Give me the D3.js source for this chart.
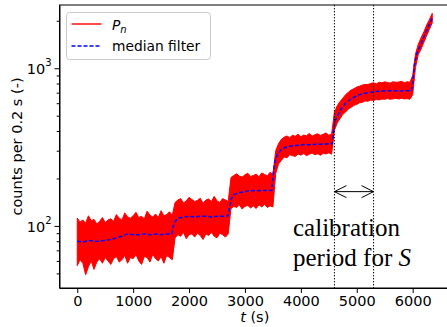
<!DOCTYPE html>
<html>
<head>
<meta charset="utf-8">
<script src="https://cdn.jsdelivr.net/npm/d3@7"></script>
<style>
  body { margin: 0; background: #fff; }
  svg { display: block; }
</style>
</head>
<body>
<svg id="chart"></svg>
<script>
// raw signal envelope (counts per 0.2 s), sampled every 50 s from t = 0
const noiseStep = 50;
const noiseHi = [
  112,106,109,104,116,108,110,103,107,113,105,109,111,107,118,112,109,121,114,112,116,122,113,115,111,124,117,114,119,113,125,116,118,123,117,
  141,146,149,140,144,152,147,143,145,150,139,146,148,143,154,144,141,149,146,143,
  203,209,214,207,204,211,216,206,209,213,205,217,212,208,219,213,
  300,332,354,365,372,363,376,370,382,368,377,373,386,371,379,384,375,381,389,376,383,
  525,578,615,645,680,705,728,742,760,770,782,790,788,802,808,796,815,808,820,812,805,822,815,818,826,810,820,815,
  900,1230,1420,1560,1700,1880,2040,2230
];
const noiseLo = [
  56,61,58,49,55,60,53,59,62,58,63,60,57,62,64,59,61,65,58,63,62,66,60,57,64,63,59,66,62,60,64,58,65,63,61,
  84,88,86,91,83,88,89,85,90,87,82,89,87,91,86,84,90,88,85,89,
  129,133,131,136,128,133,135,130,134,129,136,132,137,131,134,132,
  215,247,260,274,270,283,279,276,286,281,288,279,285,290,283,287,281,289,286,291,285,
  405,450,478,510,528,552,565,582,590,604,608,620,618,628,625,634,630,638,636,642,635,640,644,638,645,639,641,637,
  680,1010,1220,1320,1460,1610,1770,1940
];

// median filter
const medianT = [0,100,200,300,400,500,600,700,800,900,1000,1100,1200,1300,1400,1500,1600,1690,
  1720,1760,1800,1900,2000,2100,2200,2300,2400,2500,2600,2700,
  2720,2760,2800,2900,3000,3100,3200,3300,3400,3480,
  3510,3540,3580,3650,3750,3850,3950,4050,4150,4250,4350,4450,4560,
  4590,4620,4700,4800,4900,5000,5100,5200,5300,5400,5500,5600,5700,5800,5900,5980,
  6000,6030,6080,6150,6200,6250,6300,6350];
const medianV = [80,79,81,80,80,81,82,84,86,89,88,88,89,88,89,88,89,89,
  100,108,112,114,115,114,115,115,114,115,115,116,
  130,150,158,163,165,168,167,168,168,168,
  220,260,285,305,318,322,325,328,327,330,330,331,332,
  420,470,540,600,640,670,690,700,710,715,718,720,720,718,720,722,
  800,1050,1250,1430,1580,1740,1900,2080];

const calibStart = 4600, calibEnd = 5300;
const arrowLevel = 165;
const xTicks = [0,1000,2000,3000,4000,5000,6000];
const yMajor = [100, 1000];
const yMinor = [50,60,70,80,90,200,300,400,500,600,700,800,900,2000];

const width = 447, height = 327;
const margin = { top: 5, right: -3, bottom: 39, left: 59.5 };

const svg = d3.select('#chart').attr('width', width).attr('height', height);

const x = d3.scaleLinear()
  .domain([-317.5, 6667.5])
  .range([margin.left, width - margin.right]);

const y = d3.scaleLog()
  .domain([40.4, 2518])
  .range([height - margin.bottom, margin.top]);

svg.append('defs').append('clipPath').attr('id', 'clip')
  .append('rect')
  .attr('x', margin.left).attr('y', margin.top)
  .attr('width', width - margin.right - margin.left)
  .attr('height', height - margin.bottom - margin.top);

const plot = svg.append('g').attr('clip-path', 'url(#clip)');

const noise = noiseHi.map((h, i) => ({ t: i * noiseStep, hi: h, lo: noiseLo[i] }));

plot.append('path')
  .datum(noise)
  .attr('fill', '#ff0000')
  .attr('stroke', '#ff0000')
  .attr('stroke-width', 1)
  .attr('d', d3.area()
    .x(d => x(d.t))
    .y0(d => y(d.lo))
    .y1(d => y(d.hi)));

const median = medianT.map((t, i) => ({ t, v: medianV[i] }));

plot.append('path')
  .datum(median)
  .attr('fill', 'none')
  .attr('stroke', '#0000ff')
  .attr('stroke-width', 1.5)
  .attr('stroke-dasharray', '4,2')
  .attr('d', d3.line().x(d => x(d.t)).y(d => y(d.v)));

// calibration window
[calibStart, calibEnd].forEach(t => {
  plot.append('line')
    .attr('x1', x(t)).attr('x2', x(t))
    .attr('y1', margin.top).attr('y2', height - margin.bottom)
    .attr('stroke', '#000')
    .attr('stroke-width', 1)
    .attr('stroke-dasharray', '1.4,1.6');
});

const ay = y(arrowLevel);
const ax0 = x(calibStart), ax1 = x(calibEnd);
svg.append('path')
  .attr('fill', 'none')
  .attr('stroke', '#000')
  .attr('stroke-width', 1)
  .attr('d', `M${ax0},${ay}H${ax1}` +
    `M${ax0 + 12},${ay - 6}L${ax0},${ay}L${ax0 + 12},${ay + 6}` +
    `M${ax1 - 12},${ay - 6}L${ax1},${ay}L${ax1 - 12},${ay + 6}`);

const note = svg.append('text')
  .attr('font-family', '"Liberation Serif", "Times New Roman", serif')
  .attr('font-size', 25)
  .attr('fill', '#000');
note.append('tspan').attr('x', 293).attr('y', 236).text('calibration');
note.append('tspan').attr('x', 293).attr('y', 266).text('period for ');
note.append('tspan').attr('font-style', 'italic').text('S');

// axes
const font = 'DejaVu Sans, sans-serif';

const gx = svg.append('g')
  .attr('transform', `translate(0,${height - margin.bottom})`)
  .call(d3.axisBottom(x).tickValues(xTicks).tickFormat(d3.format('d'))
    .tickSize(5).tickPadding(3).tickSizeOuter(0));
gx.selectAll('text').attr('font-family', font).attr('font-size', 14.5).attr('fill', '#000');

svg.append('g')
  .attr('transform', `translate(${margin.left},0)`)
  .call(d3.axisLeft(y).tickValues(yMinor).tickSize(2.8).tickFormat(''))
  .call(g => g.select('.domain').remove());

const gy = svg.append('g')
  .attr('transform', `translate(${margin.left},0)`)
  .call(d3.axisLeft(y).tickValues(yMajor).tickSize(5).tickPadding(3).tickSizeOuter(0).tickFormat(''));
gy.selectAll('.tick').append('text')
  .attr('x', -8)
  .attr('dy', '0.36em')
  .attr('text-anchor', 'end')
  .attr('font-family', font)
  .attr('font-size', 14.5)
  .attr('fill', '#000')
  .each(function(d) {
    const t = d3.select(this);
    t.append('tspan').text('10');
    t.append('tspan').attr('font-size', 10).attr('dy', '-0.75em').text(Math.round(Math.log10(d)));
  });

// frame
svg.append('rect')
  .attr('x', margin.left).attr('y', margin.top)
  .attr('width', width - margin.right - margin.left)
  .attr('height', height - margin.bottom - margin.top)
  .attr('fill', 'none')
  .attr('stroke', '#000')
  .attr('stroke-width', 1);

svg.append('text')
  .attr('x', (margin.left + width - margin.right) / 2)
  .attr('y', 322)
  .attr('text-anchor', 'middle')
  .attr('font-family', font)
  .attr('font-size', 14.5)
  .call(t => {
    t.append('tspan').attr('font-style', 'italic').text('t');
    t.append('tspan').text(' (s)');
  });

svg.append('text')
  .attr('transform', `translate(21.5,${(margin.top + height - margin.bottom) / 2}) rotate(-90)`)
  .attr('text-anchor', 'middle')
  .attr('font-family', font)
  .attr('font-size', 14.5)
  .text('counts per 0.2 s (-)');

// legend
const legend = svg.append('g');
legend.append('rect')
  .attr('x', 66.5).attr('y', 12.5)
  .attr('width', 144).attr('height', 47)
  .attr('rx', 3)
  .attr('fill', '#fff').attr('fill-opacity', 0.8)
  .attr('stroke', '#cccccc');
legend.append('line')
  .attr('x1', 71.5).attr('x2', 101.5).attr('y1', 24).attr('y2', 24)
  .attr('stroke', '#ff0000').attr('stroke-width', 1.4);
legend.append('line')
  .attr('x1', 71.5).attr('x2', 101.5).attr('y1', 46).attr('y2', 46)
  .attr('stroke', '#0000ff').attr('stroke-width', 1.4).attr('stroke-dasharray', '4,2');
legend.append('text')
  .attr('x', 112).attr('y', 30)
  .attr('font-family', font).attr('font-size', 13.8)
  .call(t => {
    t.append('tspan').attr('font-style', 'italic').text('P');
    t.append('tspan').attr('font-style', 'italic').attr('font-size', 10).attr('dy', 3).text('n');
  });
legend.append('text')
  .attr('x', 112).attr('y', 51)
  .attr('font-family', font).attr('font-size', 13.8)
  .text('median filter');
</script>
</body>
</html>
